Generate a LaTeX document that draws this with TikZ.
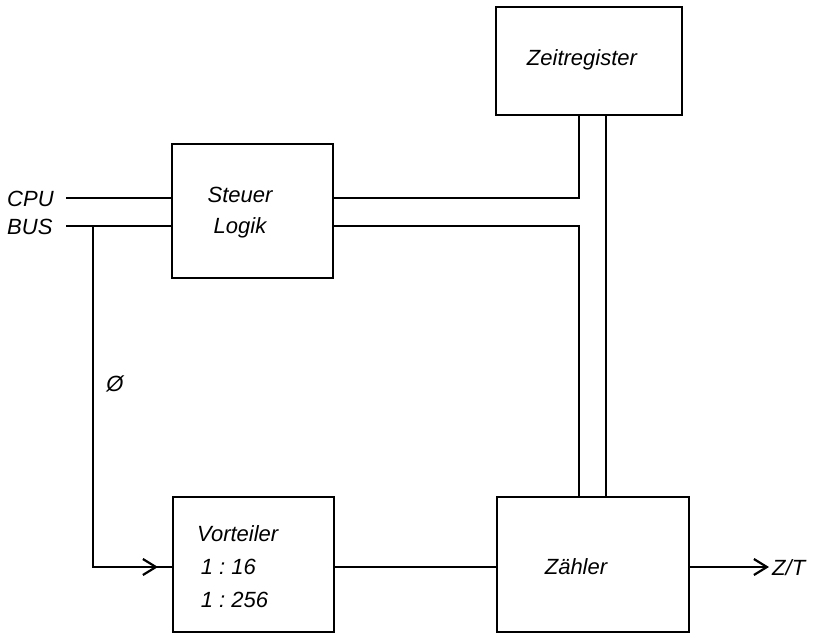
\documentclass[tikz,border=0pt]{standalone}
\usepackage{fontspec}
\setmainfont{Liberation Sans}
\usetikzlibrary{arrows.meta}
\begin{document}
\begin{tikzpicture}[x=1pt,y=-1pt,
  blk/.style={draw,line width=2.8pt,inner sep=0pt},
  wire/.style={line width=2.2pt},
  lbl/.style={font=\fontsize{22}{26}\selectfont\itshape,inner sep=0pt},
  arr/.style={wire,-{Straight Barb[length=13pt,width=16pt,line width=2.2pt]}}]
\useasboundingbox (0,0) rectangle (822,635);
% blocks
\node[blk,minimum width=186pt,minimum height=108pt] (zr) at (589,61) {};
\node[lbl] at (582,60) {Zeitregister};
\node[blk,minimum width=161pt,minimum height=134pt] (sl) at (252.5,211) {};
\node[lbl,align=center] at (240,213) {Steuer\\[5pt]Logik};
\node[blk,minimum width=161pt,minimum height=135pt] (vt) at (253.5,564.5) {};
\node[lbl,align=left,anchor=west] at (197,567) {Vorteiler\\[7pt]\,1~:~16\\[7pt]\,1~:~256};
\node[blk,minimum width=192pt,minimum height=135pt] (zl) at (593,564.5) {};
\node[lbl] at (576,567) {Zähler};
% labels
\node[lbl,anchor=west] (cpu) at (7,199) {CPU};
\node[lbl,anchor=west] (bus) at (7,227) {BUS};
\node[lbl] (phi) at (115,384) {Ø};
\node[lbl,anchor=west] (zt) at (772,568) {Z/T};
% coordinates
\coordinate (c1) at (66,198);
\coordinate (c2) at (66,226);
\coordinate (j) at (93,226);
\coordinate (ja) at (93,567);
\coordinate (ar) at (158,567);
% wires
\draw[wire] (c1) -- (c1 -| sl.west);
\draw[wire] (c2) -- (c2 -| sl.west);
\draw[wire] (j) -- (ja) -- (ja -| vt.west);
\draw[arr] (ja) -- (ar);
\draw[wire] (sl.east |- 0,198) -- (579,198) -- (579,0 |- zr.south);
\draw[wire] (sl.east |- 0,226) -- (579,226) -- (579,0 |- zl.north);
\draw[wire] (606,0 |- zr.south) -- (606,0 |- zl.north);
\draw[wire] (vt.east |- 0,567) -- (zl.west |- 0,567);
\draw[arr] (zl.east |- 0,567) -- (769,567);
\end{tikzpicture}
\end{document}
